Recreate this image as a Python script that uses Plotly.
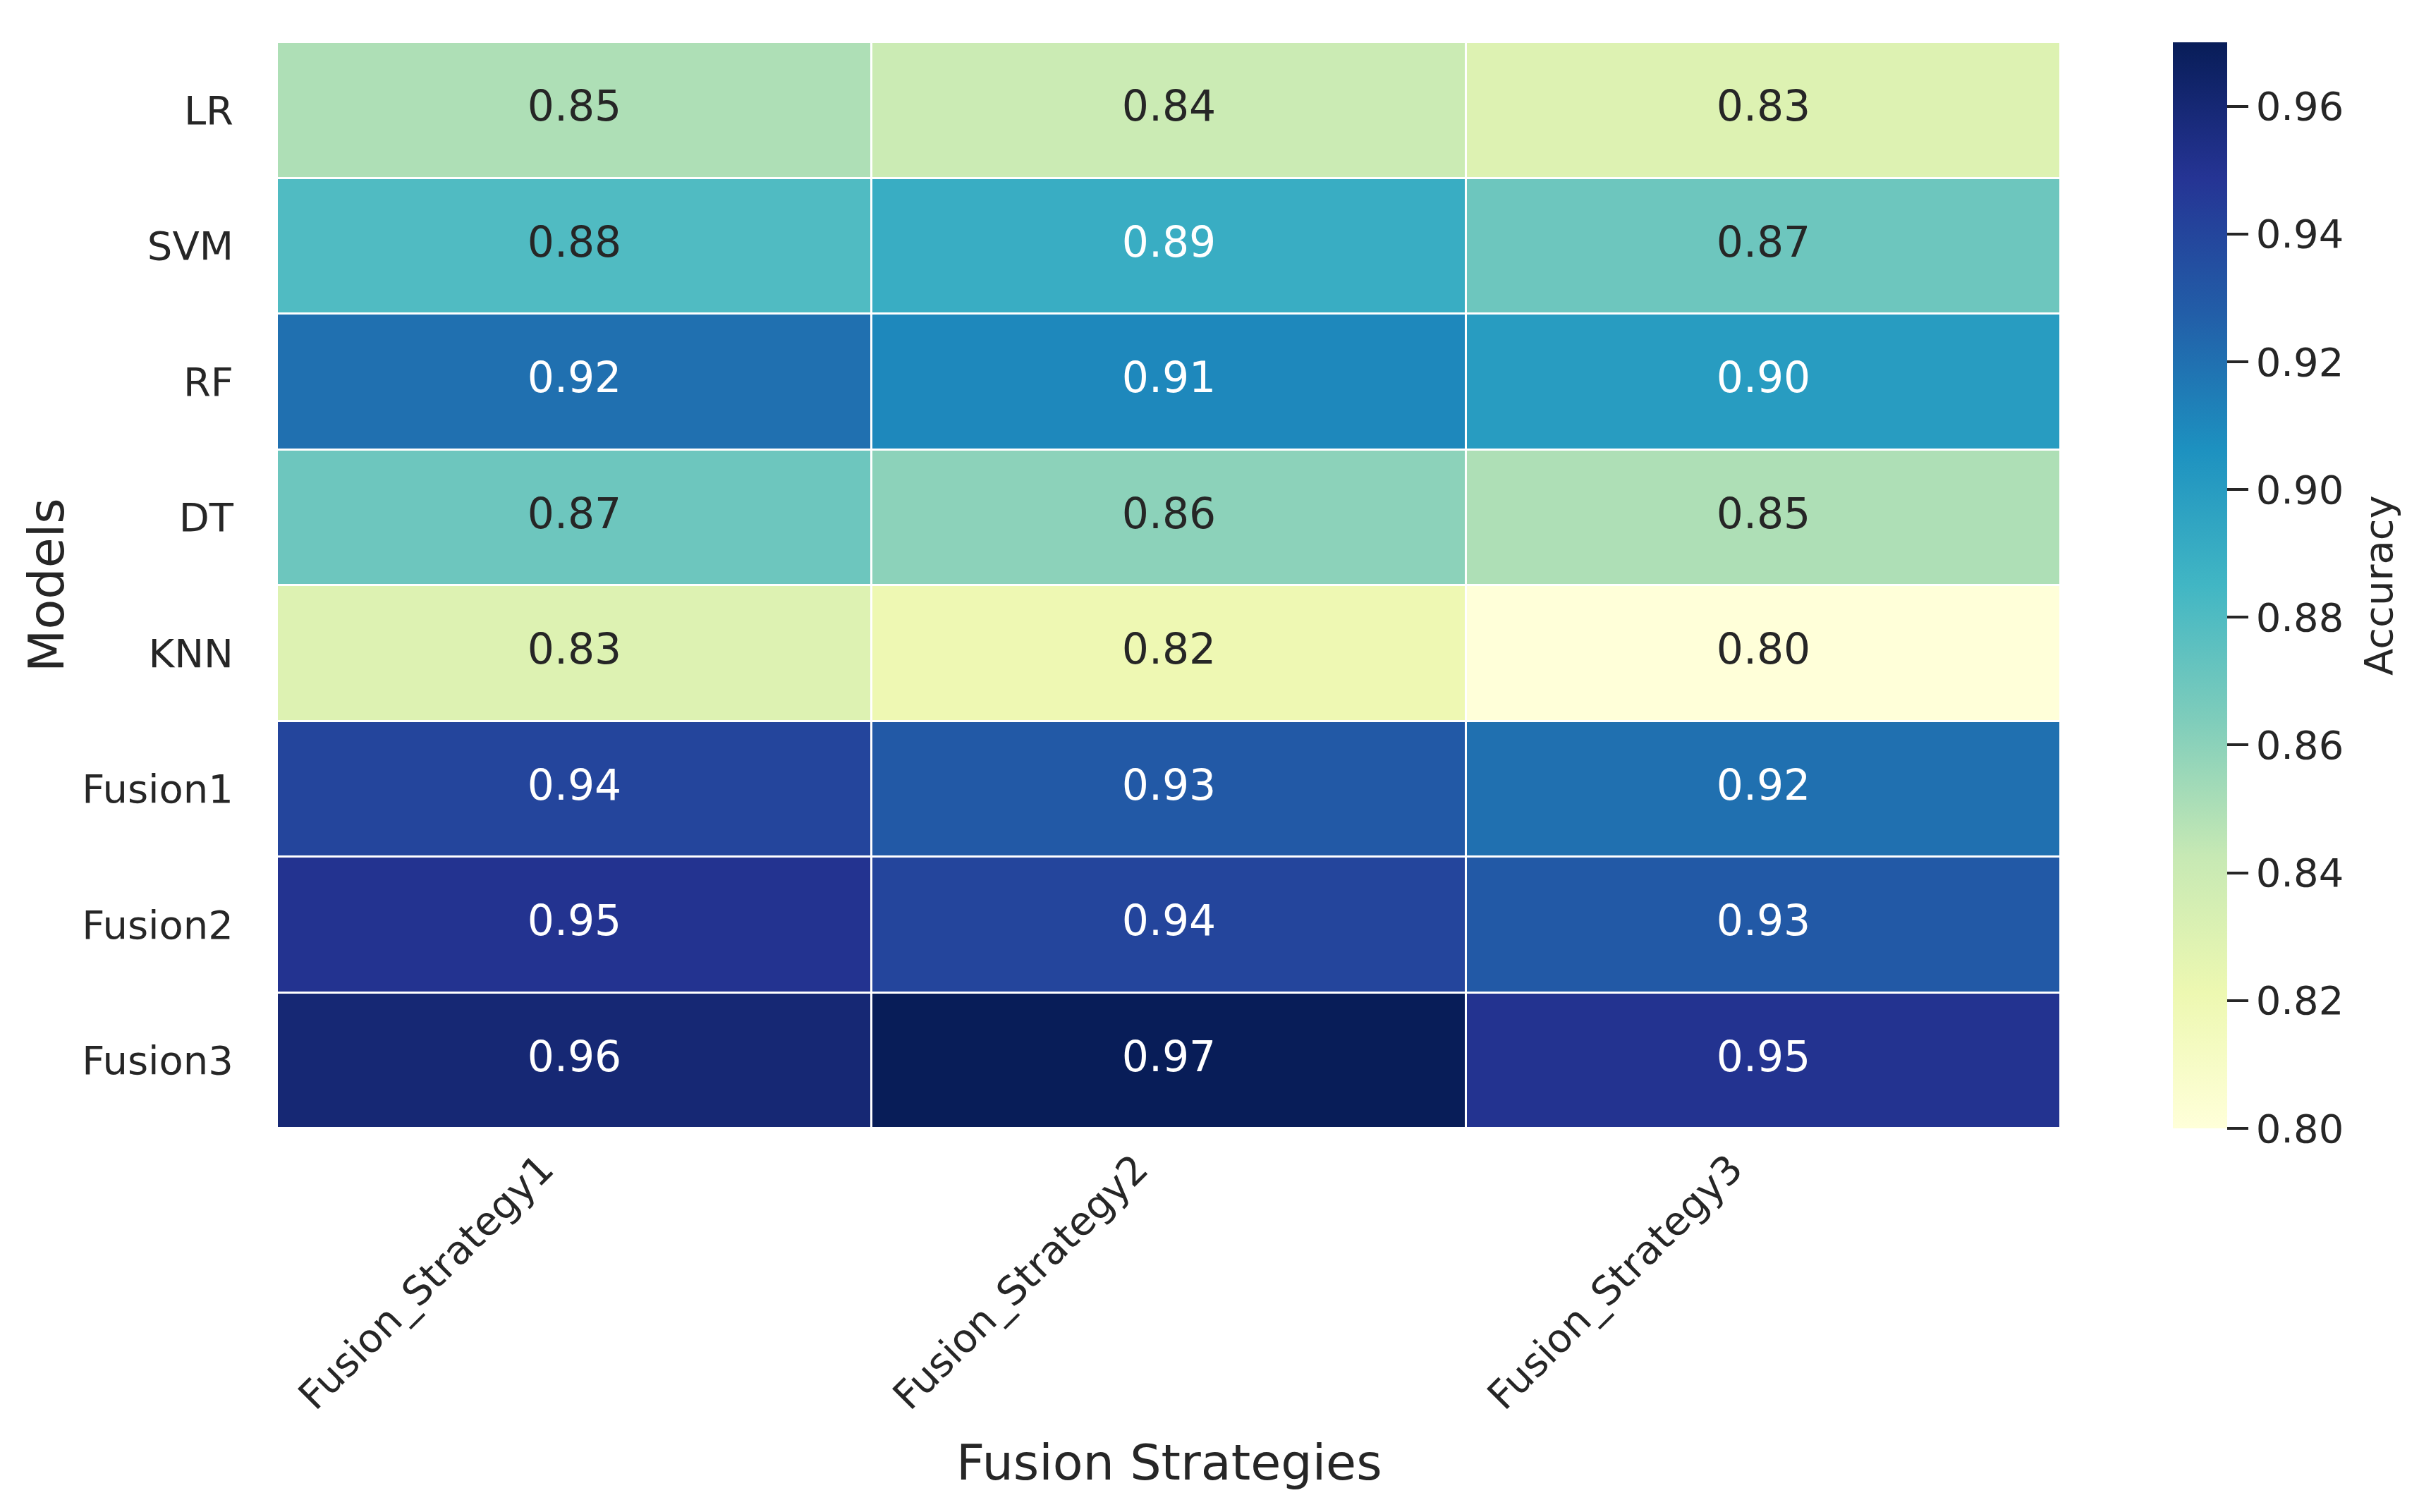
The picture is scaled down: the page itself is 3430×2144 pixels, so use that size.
import plotly.graph_objects as go
from plotly.colors import sample_colorscale, unlabel_rgb

# ---- data ----
models = ["LR", "SVM", "RF", "DT", "KNN", "Fusion1", "Fusion2", "Fusion3"]
strategies = ["Fusion_Strategy1", "Fusion_Strategy2", "Fusion_Strategy3"]
acc_strategy1 = [0.85, 0.88, 0.92, 0.87, 0.83, 0.94, 0.95, 0.96]
acc_strategy2 = [0.84, 0.89, 0.91, 0.86, 0.82, 0.93, 0.94, 0.97]
acc_strategy3 = [0.83, 0.87, 0.90, 0.85, 0.80, 0.92, 0.93, 0.95]
cbar_ticks = [0.80, 0.82, 0.84, 0.86, 0.88, 0.90, 0.92, 0.94, 0.96]
zmin, zmax = 0.80, 0.97

ylgnbu = ['rgb(255,255,217)', 'rgb(237,248,177)', 'rgb(199,233,180)',
          'rgb(127,205,187)', 'rgb(65,182,196)', 'rgb(29,145,192)',
          'rgb(34,94,168)', 'rgb(37,52,148)', 'rgb(8,29,88)']

z = [list(r) for r in zip(acc_strategy1, acc_strategy2, acc_strategy3)]

# ---- geometry (px) ----
W, H = 3430, 2144
L, R, T, B = 385, 2914, 52, 1592
plot_w, plot_h = R - L, B - T

TXT = "#262626"
FONT = "DejaVu Sans"
TICK_SIZE = 56
ANNOT_SIZE = 60
TITLE_SIZE = 70


def rel_lum(rgbstr):
    vals = []
    for c in unlabel_rgb(rgbstr):
        c = c / 255.0
        c = c / 12.92 if c <= 0.03928 else ((c + 0.055) / 1.055) ** 2.4
        vals.append(c)
    return 0.2126 * vals[0] + 0.7152 * vals[1] + 0.0722 * vals[2]


tx, ty, tt, tc = [], [], [], []
for i, m in enumerate(models):
    for j, s in enumerate(strategies):
        v = z[i][j]
        col = sample_colorscale(ylgnbu, [(v - zmin) / (zmax - zmin)])[0]
        tx.append(s)
        ty.append(m)
        tt.append(f"{v:.2f}")
        tc.append("white" if rel_lum(col) < 0.408 else TXT)

fig = go.Figure()
fig.add_trace(go.Heatmap(
    z=z, x=strategies, y=models,
    colorscale=ylgnbu, zmin=zmin, zmax=zmax,
    xgap=3, ygap=3,
    colorbar=dict(
        x=(3073 - L) / plot_w, xanchor="left", xref="paper",
        y=0.5, yanchor="middle", len=1, lenmode="fraction",
        thickness=77, xpad=0, ypad=0, outlinewidth=0,
        tickvals=cbar_ticks, ticktext=[f"{t:.2f}" for t in cbar_ticks],
        ticks="outside", ticklen=30, tickwidth=4, tickcolor=TXT,
        tickfont=dict(family=FONT, size=TICK_SIZE, color=TXT),
    ),
    hoverinfo="skip",
))
fig.add_trace(go.Scatter(
    x=tx, y=ty, text=tt, mode="text",
    textfont=dict(family=FONT, size=ANNOT_SIZE, color=tc),
    showlegend=False, hoverinfo="skip",
))

fig.update_layout(
    width=W, height=H,
    margin=dict(l=L, r=W - R, t=T, b=H - B, autoexpand=False),
    paper_bgcolor="white", plot_bgcolor="white",
    font=dict(family=FONT, size=TICK_SIZE, color=TXT),
    xaxis=dict(showgrid=False, zeroline=False, showline=False,
               tickangle=-45, ticks="", ticklabelstandoff=12,
               ticklabelshift=-46,
               tickfont=dict(family=FONT, size=TICK_SIZE, color=TXT)),
    yaxis=dict(showgrid=False, zeroline=False, showline=False,
               autorange="reversed", ticks="", ticklabelstandoff=61,
               tickfont=dict(family=FONT, size=TICK_SIZE, color=TXT)),
    annotations=[
        dict(text="Fusion Strategies", x=0.5, y=(B - 2066) / plot_h,
             xref="paper", yref="paper", xanchor="center", yanchor="middle",
             showarrow=False, font=dict(family=FONT, size=TITLE_SIZE, color=TXT)),
        dict(text="Models", x=(58 - L) / plot_w, y=0.5,
             xref="paper", yref="paper", xanchor="center", yanchor="middle",
             textangle=-90, showarrow=False,
             font=dict(family=FONT, size=TITLE_SIZE, color=TXT)),
        dict(text="Accuracy", x=(3364 - L) / plot_w, y=0.5,
             xref="paper", yref="paper", xanchor="center", yanchor="middle",
             textangle=-90, showarrow=False,
             font=dict(family=FONT, size=TICK_SIZE, color=TXT)),
    ],
)

fig.write_html("out.html")
